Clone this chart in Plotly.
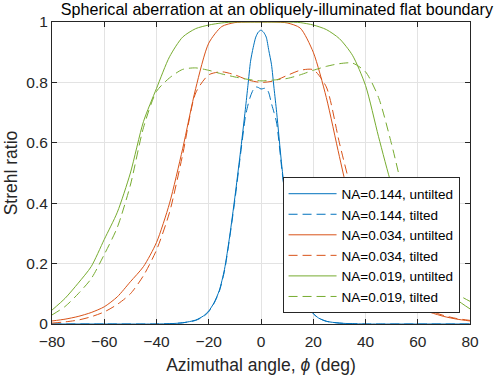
import plotly.graph_objects as go

# azimuthal angle grids (deg)
phi = [-80, -75, -70, -65, -60, -55, -50, -45, -40, -35, -30, -25, -20, -15, -10, -5, 0,
       5, 10, 15, 20, 25, 30, 35, 40, 45, 50, 55, 60, 65, 70, 75, 80]
phi_b = [-80, -60, -40, -35, -30, -25, -22, -20, -18, -16, -14, -12, -10, -8, -6, -5, -4, -3, -2, -1, 0,
         1, 2, 3, 4, 5, 6, 8, 10, 12, 14, 16, 18, 20, 22, 25, 30, 35, 40, 60, 80]

# NA = 0.144
s144_untilted = [0, 0, 0, 0.001, 0.004, 0.013, 0.027, 0.043, 0.07, 0.11, 0.18, 0.29, 0.42, 0.56, 0.71, 0.79, 0.87,
                 0.915, 0.95, 0.967, 0.973, 0.966, 0.95, 0.905, 0.86, 0.78, 0.70, 0.52, 0.37, 0.25, 0.16, 0.10,
                 0.06, 0.035, 0.02, 0.009, 0.003, 0.001, 0, 0, 0]
s144_tilted = [0, 0, 0, 0.001, 0.004, 0.012, 0.025, 0.041, 0.068, 0.107, 0.175, 0.285, 0.41, 0.55, 0.685, 0.725, 0.755,
               0.775, 0.785, 0.783, 0.778, 0.78, 0.781, 0.765, 0.73, 0.70, 0.665, 0.51, 0.365, 0.245, 0.157, 0.098,
               0.059, 0.034, 0.02, 0.009, 0.003, 0.001, 0, 0, 0]

# NA = 0.034
s034_untilted = [0.010, 0.016, 0.025, 0.038, 0.057, 0.09, 0.14, 0.19, 0.27, 0.40, 0.58, 0.78, 0.93, 0.985, 0.998, 1.0, 1.0,
                 1.0, 0.997, 0.98, 0.90, 0.75, 0.555, 0.37, 0.24, 0.165, 0.115, 0.08, 0.055, 0.038, 0.025, 0.016, 0.010]
s034_tilted = [0.003, 0.007, 0.013, 0.024, 0.04, 0.065, 0.10, 0.16, 0.245, 0.37, 0.56, 0.765, 0.825, 0.835, 0.825, 0.808, 0.80,
               0.805, 0.823, 0.84, 0.842, 0.785, 0.60, 0.43, 0.29, 0.195, 0.135, 0.093, 0.063, 0.043, 0.028, 0.018, 0.012]

# NA = 0.019
s019_untilted = [0.046, 0.085, 0.135, 0.19, 0.28, 0.37, 0.50, 0.67, 0.78, 0.885, 0.95, 0.978, 0.99, 0.997, 1.0, 1.0, 1.0,
                 1.0, 1.0, 0.998, 0.99, 0.975, 0.945, 0.89, 0.79, 0.62, 0.46, 0.34, 0.25, 0.18, 0.12, 0.08, 0.05]
s019_tilted = [0.03, 0.058, 0.10, 0.15, 0.23, 0.32, 0.46, 0.65, 0.77, 0.815, 0.843, 0.848, 0.84, 0.828, 0.818, 0.81, 0.805,
               0.808, 0.813, 0.825, 0.84, 0.853, 0.862, 0.864, 0.835, 0.75, 0.595, 0.42, 0.30, 0.21, 0.145, 0.10, 0.075]

blue = "#0072BD"
orange = "#D95319"
green = "#77AC30"

series = [
    ("NA=0.144, untilted", phi_b, s144_untilted, blue, "solid"),
    ("NA=0.144, tilted", phi_b, s144_tilted, blue, "9px,5px"),
    ("NA=0.034, untilted", phi, s034_untilted, orange, "solid"),
    ("NA=0.034, tilted", phi, s034_tilted, orange, "9px,5px"),
    ("NA=0.019, untilted", phi, s019_untilted, green, "solid"),
    ("NA=0.019, tilted", phi, s019_tilted, green, "9px,5px"),
]

fig = go.Figure()
for name, x, y, c, d in series:
    fig.add_trace(go.Scatter(x=x, y=y, name=name, mode="lines",
                             line=dict(color=c, width=1, dash=d, shape="spline", smoothing=0.7)))

axis_style = dict(showline=True, linecolor="#262626", linewidth=1, mirror="ticks",
                  ticks="inside", ticklen=5, tickcolor="#262626", automargin=False,
                  showgrid=True, gridcolor="#e3e3e3", gridwidth=1, zeroline=False,
                  tickfont=dict(size=15.5, color="#262626"))

fig.update_layout(
    width=498, height=377,
    margin=dict(l=52, r=28, t=22, b=53),
    paper_bgcolor="white", plot_bgcolor="white",
    font=dict(family="Liberation Sans, Arial, sans-serif", color="#262626"),
    title=dict(text="Spherical aberration at an obliquely-illuminated flat boundary",
               x=0.556, xanchor="center", y=0.975, yanchor="middle", yref="container",
               font=dict(size=16.1, color="black")),
    xaxis=dict(range=[-80, 80], tickvals=[-80, -60, -40, -20, 0, 20, 40, 60, 80],
               ticklabelstandoff=3,
               title=dict(text="Azimuthal angle, <i>\u03d5</i> (deg)", font=dict(size=17.5), standoff=10),
               **axis_style),
    yaxis=dict(range=[0, 1], tickvals=[0, 0.2, 0.4, 0.6, 0.8, 1],
               ticktext=["0", "0.2", "0.4", "0.6", "0.8", "1"],
               title=dict(text="Strehl ratio", font=dict(size=17.5), standoff=4),
               **axis_style),
    legend=dict(x=0.975, xanchor="right", y=0.035, yanchor="bottom",
                bgcolor="white", bordercolor="#262626", borderwidth=1,
                font=dict(size=13.5, color="black"), itemwidth=48, tracegroupgap=0),
    showlegend=True,
)

fig.write_html("out.html", config={"displayModeBar": False},
               post_script="document.body.style.margin='0';")
